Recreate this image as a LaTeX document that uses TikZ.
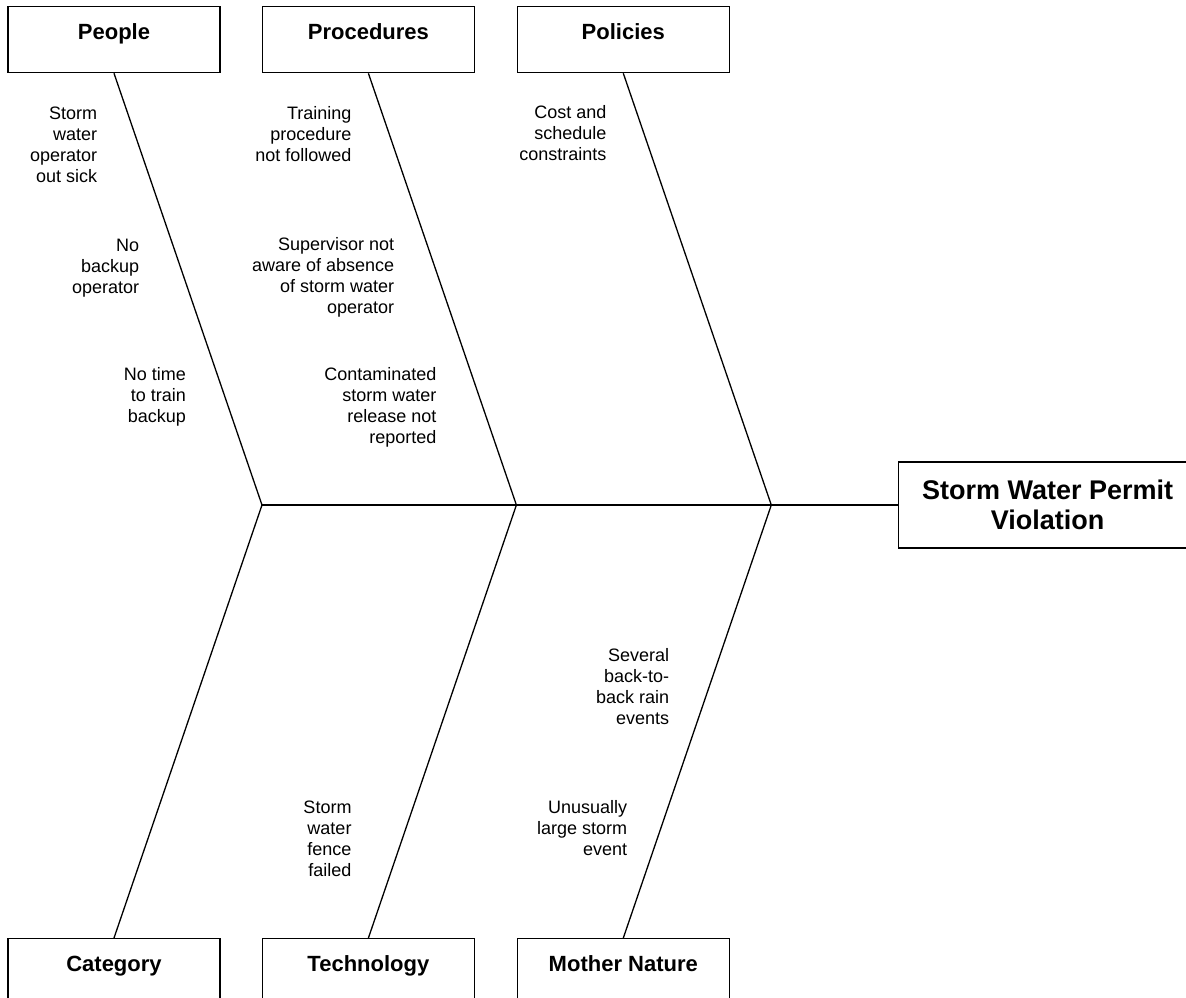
\documentclass[tikz,border=0pt]{standalone}
\usepackage{fontspec}
\setmainfont{Liberation Sans}
\begin{document}
\begin{tikzpicture}[x=1pt,y=-1pt,
  catbox/.style={draw, line width=1.3pt, minimum width=212pt, inner sep=0pt,
    text height=33pt, text depth=33pt, anchor=north,
    font=\fontsize{22}{26}\selectfont\bfseries},
  effectbox/.style={draw, line width=1.3pt, minimum width=298pt, minimum height=86pt,
    inner sep=0pt, align=center, anchor=west,
    font=\fontsize{27}{30}\selectfont\bfseries},
  bone/.style={line width=1.3pt},
  cause/.style={align=right, inner sep=0pt, anchor=base east,
    font=\fontsize{18}{21}\selectfont}]
\useasboundingbox (0,0) rectangle (1186,997);
\clip (0,0) rectangle (1186,997);
% category boxes
\node[catbox] (people) at (114,6) {People};
\node[catbox] (procedures) at (368.4,6) {Procedures};
\node[catbox] (policies) at (623.3,6) {Policies};
\node[catbox] (category) at (114,938) {Category};
\node[catbox] (technology) at (368.4,938) {Technology};
\node[catbox] (nature) at (623.3,938) {Mother Nature};
% effect
\node[effectbox] (effect) at (898,505) {Storm Water Permit\\Violation};
% junctions on the spine
\coordinate (j1) at (262,505);
\coordinate (j2) at (516.4,505);
\coordinate (j3) at (771.3,505);
% bones
\draw[bone] (j1) -- (effect.west);
\draw[bone] (people.south) -- (j1);
\draw[bone] (procedures.south) -- (j2);
\draw[bone] (policies.south) -- (j3);
\draw[bone] (category.north) -- (j1);
\draw[bone] (technology.north) -- (j2);
\draw[bone] (nature.north) -- (j3);
% causes (anchored at the baseline of the last line)
\node[cause] (c1) at (97.3,182) {Storm\\water\\operator\\out sick};
\node[cause] (c2) at (139.3,293.5) {No\\backup\\operator};
\node[cause] (c3) at (186,422.5) {No time\\to train\\backup};
\node[cause] (c4) at (351.7,161) {Training\\procedure\\not followed};
\node[cause] (c5) at (394.3,313.5) {Supervisor not\\aware of absence\\of storm water\\operator};
\node[cause] (c6) at (436.7,443) {Contaminated\\storm water\\release not\\reported};
\node[cause] (c7) at (606.7,160.5) {Cost and\\schedule\\constraints};
\node[cause] (c8) at (669.3,724.5) {Several\\back-to-\\back rain\\events};
\node[cause] (c9) at (627.3,855) {Unusually\\large storm\\event};
\node[cause] (c10) at (351.7,876) {Storm\\water\\fence\\failed};
\end{tikzpicture}
\end{document}
